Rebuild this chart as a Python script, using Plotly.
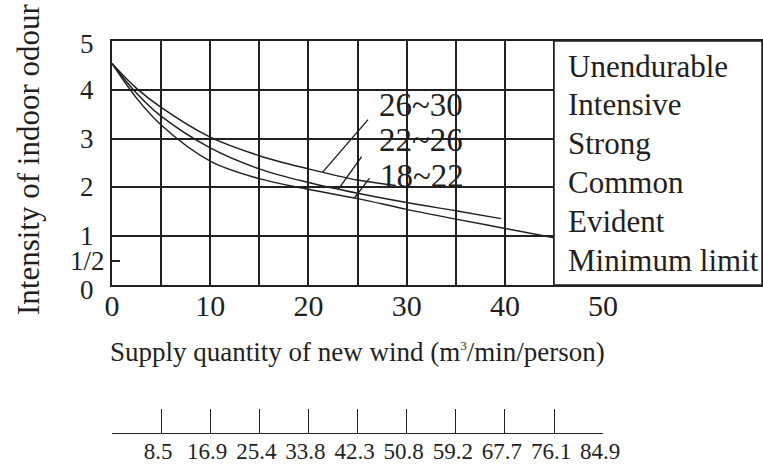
import numpy as np
import plotly.graph_objects as go

# ---------------- data ----------------
series_names = ["26~30", "22~26", "18~22"]
x_26_30 = [0, 2.5, 5, 10, 15, 20, 25, 28.9]
y_26_30 = [4.54, 4.03, 3.64, 3.03, 2.65, 2.38, 2.15, 2.04]
x_22_26 = [0, 2.5, 5, 10, 15, 20, 25, 30, 35, 39.6]
y_22_26 = [4.54, 3.93, 3.46, 2.81, 2.38, 2.10, 1.88, 1.69, 1.52, 1.36]
x_18_22 = [0, 2.5, 5, 10, 15, 20, 25, 30, 35, 40, 45]
y_18_22 = [4.54, 3.83, 3.28, 2.54, 2.18, 1.96, 1.77, 1.55, 1.35, 1.16, 0.97]

x_tick_vals = [0, 5, 10, 15, 20, 25, 30, 35, 40, 45, 50]
x_tick_text = ["0", "", "10", "", "20", "", "30", "", "40", "", "50"]
y_grid_vals = [0, 1, 2, 3, 4, 5]
y_tick_vals = [0, 0.5, 1, 2, 3, 4, 5]
y_tick_text = ["0", "1/2", "1", "2", "3", "4", "5"]
odour_levels = ["Unendurable", "Intensive", "Strong", "Common", "Evident", "Minimum limit"]
scale_vals = [0, 5, 10, 15, 20, 25, 30, 35, 40, 45, 50]
scale_text = ["", "8.5", "16.9", "25.4", "33.8", "42.3", "50.8", "59.2", "67.7", "76.1", "84.9"]

# leader lines: x on curve, tail (x, y); label anchors
leader_x_on_curve = [21.45, 23.05, 24.68]
leader_tail = [(26.2, 3.42), (25.53, 2.66), (26.34, 2.22)]
label_pos = [(26.95, 3.68), (26.95, 2.97), (27.1, 2.24)]

# ---------------- layout geometry ----------------
W, H = 763, 466
L, R, T, B = 112, 1, 41, 33
PW, PH = W - L - R, H - T - B            # 650 x 392
PX_PER_UNIT = 442 / 45.0
X_MAX = PW / PX_PER_UNIT
Y_DOM0 = (433 - 285) / PH

INK = "#231f20"
FONT = "Liberation Serif, Times New Roman, serif"

def py(pix):  # pixel y -> paper y
    return (433 - pix) / PH

def px(pix):  # pixel x -> paper x
    return (pix - L) / PW

fig = go.Figure()
series = [(x_26_30, y_26_30), (x_22_26, y_22_26), (x_18_22, y_18_22)]
for name, (xs, ys) in zip(series_names, series):
    fig.add_trace(go.Scatter(x=xs, y=ys, mode="lines", name=name,
                             line=dict(color=INK, width=1.5, shape="spline", smoothing=1.0),
                             hoverinfo="skip", showlegend=False))

# invisible trace to hold the secondary (bottom) scale
fig.add_trace(go.Scatter(x=[0], y=[0], xaxis="x2", yaxis="y2", mode="markers",
                         marker=dict(opacity=0), hoverinfo="skip", showlegend=False))

annotations = []
# leader lines and curve labels
for (xs, ys), xc, (tx, ty), (lx, ly), name in zip(series, leader_x_on_curve, leader_tail, label_pos, series_names):
    yc = float(np.interp(xc, xs, ys))
    annotations.append(dict(x=xc, y=yc, xref="x", yref="y", ax=tx, ay=ty, axref="x", ayref="y",
                            text="", showarrow=True, arrowhead=0, arrowwidth=1.4, arrowcolor=INK))
    annotations.append(dict(x=lx, y=ly, xref="x", yref="y", text=name, showarrow=False,
                            xanchor="left", yanchor="middle",
                            font=dict(family=FONT, size=33, color=INK)))

# y tick labels (centred, like the original)
y_label_shift = {0: -5, 5: -3}
for v, t in zip(y_tick_vals, y_tick_text):
    annotations.append(dict(x=px(87), y=v, xref="paper", yref="y", text=t, showarrow=False,
                            xanchor="center", yanchor="middle", yshift=y_label_shift.get(v, 0),
                            font=dict(family=FONT, size=27, color=INK)))

# odour level descriptions in the right-hand box
for i, lev in enumerate(odour_levels):
    annotations.append(dict(x=px(566), y=py(66 + i * 38.8), xref="paper", yref="paper", text=lev,
                            showarrow=False, xanchor="left", yanchor="middle",
                            font=dict(family=FONT, size=31, color=INK)))

# axis titles
annotations.append(dict(x=px(28), y=py(160), xref="paper", yref="paper",
                        text="Intensity of indoor odour", textangle=-90, showarrow=False,
                        xanchor="center", yanchor="middle",
                        font=dict(family=FONT, size=31, color=INK)))
annotations.append(dict(x=px(357), y=py(352), xref="paper", yref="paper",
                        text="Supply quantity of new wind (m<sup><span style='font-size:13px'>3</span></sup>/min/person)",
                        showarrow=False, xanchor="center", yanchor="middle",
                        font=dict(family=FONT, size=27, color=INK)))

shapes = [dict(type="rect", xref="paper", yref="paper", x0=45 / X_MAX, x1=1, y0=Y_DOM0, y1=1,
               fillcolor="white", line=dict(color=INK, width=1.5), layer="above")]

fig.update_layout(
    width=W, height=H, margin=dict(l=L, r=R, t=T, b=B, pad=0, autoexpand=False),
    paper_bgcolor="white", plot_bgcolor="white",
    annotations=annotations, shapes=shapes, showlegend=False,
    xaxis=dict(domain=[0, 1], range=[0, X_MAX], anchor="y",
               tickmode="array", tickvals=x_tick_vals, ticktext=x_tick_text,
               showgrid=True, gridcolor=INK, gridwidth=1.5, zeroline=False,
               showline=True, linecolor=INK, linewidth=1.5, mirror=True, ticks="",
               ticklabelstandoff=-7,
               tickfont=dict(family=FONT, size=30, color=INK)),
    yaxis=dict(domain=[Y_DOM0, 1], range=[0, 5], anchor="x",
               tickmode="array", tickvals=y_grid_vals, showticklabels=False,
               showgrid=True, gridcolor=INK, gridwidth=1.5, zeroline=False,
               showline=True, linecolor=INK, linewidth=1.5, mirror=True, ticks="",
               minor=dict(tickmode="array", tickvals=[0.5], ticks="inside", ticklen=8,
                          tickwidth=1.5, tickcolor=INK, showgrid=False)),
    xaxis2=dict(domain=[0, 50 / X_MAX], range=[0, 50], anchor="y2",
                tickmode="array", tickvals=scale_vals, ticktext=scale_text,
                ticks="inside", ticklen=24, tickwidth=1.3, tickcolor=INK,
                showline=True, linecolor=INK, linewidth=1.3, showgrid=False, zeroline=False,
                ticklabelshift=-3, ticklabelstandoff=-3,
                tickfont=dict(family=FONT, size=23, color=INK)),
    yaxis2=dict(domain=[0, 0.02], range=[0, 1], anchor="x2", visible=False),
)

fig.write_html("out.html", config={"displayModeBar": False},
               post_script="document.body.style.margin='0';document.body.style.overflow='hidden';")
